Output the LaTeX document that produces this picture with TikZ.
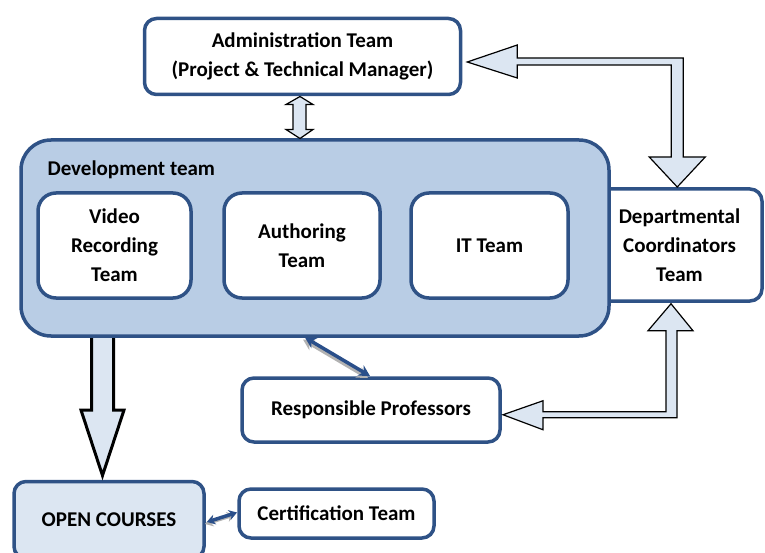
\documentclass[tikz,border=0pt]{standalone}
\usepackage{fontspec}
\setmainfont{Carlito}
\usetikzlibrary{calc,arrows.meta}
\definecolor{boxline}{HTML}{2F5286}
\definecolor{devfill}{HTML}{B9CDE5}
\definecolor{lightfill}{HTML}{DCE6F2}
\definecolor{linkblue}{HTML}{2A4F8A}

\begin{document}
\begin{tikzpicture}[x=1pt,y=-1pt,
    team/.style={draw=boxline,line width=3.5pt,rounded corners=#1,fill=white,
      align=center,inner sep=0pt,outer sep=0pt,
      font=\fontsize{21}{29}\selectfont\bfseries},
    team/.default=12pt,
    blockarrow/.style={draw=black,line width=1.2pt,fill=lightfill,line join=miter},
    link/.style={linkblue,line width=3.5pt,
      {Stealth[length=11pt,width=12pt]}-{Stealth[length=11pt,width=12pt]}},
    linkshadow/.style={link,gray!60,transform canvas={xshift=-2pt,yshift=-2pt}}]
        \useasboundingbox (0,0) rectangle (765,553);

        % Boxes
        \node[team] (admin) at (302.5,56.5) [minimum width=316pt,minimum height=76pt]
            {Administration Team\\(Project \& Technical Manager)};
        \node[team] (dept) at (679.5,245) [minimum width=165pt,minimum height=112pt]
            {Departmental\\Coordinators\\Team};
        \node[team] (prof) at (371,410) [minimum width=258pt,minimum height=64pt]
            {Responsible Professors};
        \node[team,fill=lightfill] (open) at (109,520) [minimum width=190pt,minimum height=77pt]
            {OPEN COURSES};
        \node[team] (cert) at (336.5,513.5) [minimum width=195pt,minimum height=49pt]
            {Certification Team};

        % Big arrow (under the development team)
        \coordinate (bigtip) at ($(open.north)+(-6.5,-6)$);
        \draw[blockarrow,line width=3pt] (bigtip) -- ++(21.5,-65.5) -- ++(-10.5,0)
            -- ++(0,-80) -- ++(-22,0) -- ++(0,80) -- ++(-10.5,0) -- cycle;

        % Development team
        \node[team=30pt,fill=devfill] (dev) at (315,238) [minimum width=588pt,minimum height=196pt] {};
        \node[anchor=base west,font=\fontsize{21}{29}\selectfont\bfseries] (devlabel) at (44,176)
            {Development team};
        \node[team=18pt] (video) at (114.5,245.5) [minimum width=153pt,minimum height=105pt]
            {Video\\Recording\\Team};
        \node[team=18pt] (author) at (302,245.5) [minimum width=156pt,minimum height=105pt]
            {Authoring\\Team};
        \node[team=18pt] (it) at (489.5,245.5) [minimum width=157pt,minimum height=105pt]
            {IT Team};

        % Block arrows
        \coordinate (uptip) at ($(admin.south)+(-2.5,2)$);
        \draw[blockarrow] (uptip) -- ++(13,8) -- ++(-7,0) -- ++(0,25) -- ++(7,0)
            -- ++(-13,9) -- ++(-14,-9) -- ++(7,0) -- ++(0,-25) -- ++(-7,0) -- cycle;
        \coordinate (admintip) at ($(admin.east)+(6.75,5.5)$);
        \draw[blockarrow] (admintip) -- ++(50,-17) -- ++(0,13) -- ++(166,0) -- ++(0,99)
            -- ++(22,0) -- ++(-28,30) -- ++(-28,-30) -- ++(22,0) -- ++(0,-92)
            -- ++(-154,0) -- ++(0,13) -- cycle;
        \coordinate (depttip) at ($(dept.south)+(-8.5,2.75)$);
        \draw[blockarrow] (depttip) -- ++(22,27) -- ++(-16,0) -- ++(0,87) -- ++(-134,0)
            -- ++(0,12) -- ++(-40,-15) -- ++(40,-14) -- ++(0,11) -- ++(123,0)
            -- ++(0,-81) -- ++(-18,0) -- cycle;

        % Links
        \draw[linkshadow] ([xshift=-10pt,yshift=-1.5pt]dev.south) -- ([xshift=-1pt,yshift=2pt]prof.north);
        \draw[link] ([xshift=-10pt,yshift=-1.5pt]dev.south) -- ([xshift=-1pt,yshift=2pt]prof.north);
        \draw[linkshadow,{Stealth[length=8pt,width=10pt]}-{Stealth[length=8pt,width=10pt]}]
            ([xshift=3pt,yshift=-2pt]open.east) -- ([xshift=-2pt,yshift=1pt]cert.west);
        \draw[link,{Stealth[length=8pt,width=10pt]}-{Stealth[length=8pt,width=10pt]}]
            ([xshift=3pt,yshift=-2pt]open.east) -- ([xshift=-2pt,yshift=1pt]cert.west);
    \end{tikzpicture}
\end{document}
